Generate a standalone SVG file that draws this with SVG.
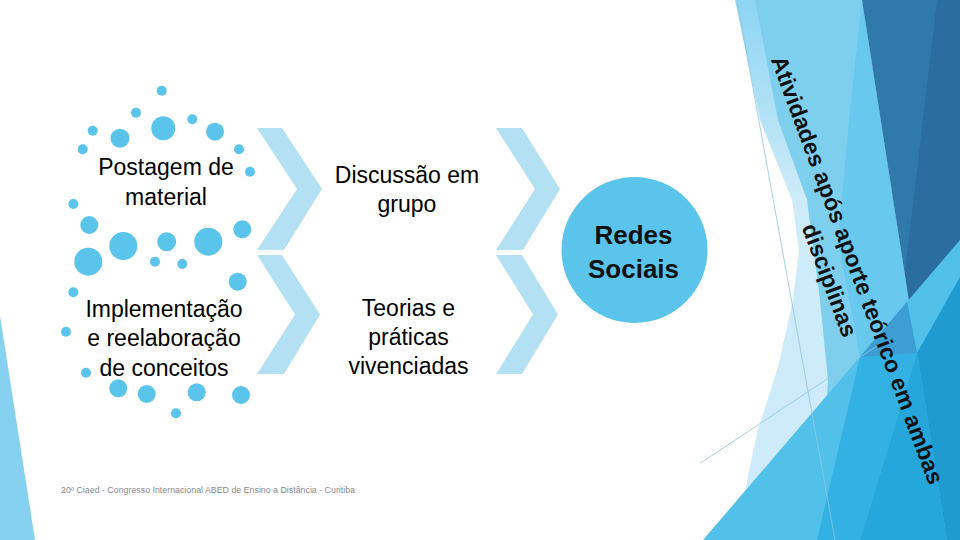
<svg xmlns="http://www.w3.org/2000/svg" width="960" height="540" viewBox="0 0 960 540">
  <defs>
    <linearGradient id="paleGrad" x1="0" y1="0" x2="0" y2="540" gradientUnits="userSpaceOnUse">
      <stop offset="0" stop-color="#8DD5F2"/>
      <stop offset="0.36" stop-color="#CDEBF8"/>
      <stop offset="1" stop-color="#CDEBF8"/>
    </linearGradient>
  </defs>
  <style>
    .lbl { font-family: "Liberation Sans", Arial, sans-serif; font-size: 23px; fill: #000; text-anchor: middle; }
    .bold { font-family: "Liberation Sans", Arial, sans-serif; font-weight: bold; fill: #111; }
    .dot { fill: #5BC4EA; }
    .chev { fill: #B4E0F4; }
    .thin { stroke: #8FC7DE; stroke-width: 0.8; fill: none; }
    .foot { font-family: "Liberation Sans", Arial, sans-serif; font-size: 8.3px; fill: #8A8A8A; }
  </style>

  <rect width="960" height="540" fill="#FFFFFF"/>

  <!-- background decoration -->
  <g id="decoration">
    <polygon points="0,316 35,540 0,540" fill="#86D1EF"/>
    <polygon points="735,0 760,0 830,300 840,540 737,540 743,500 757,433 778,367 793,300 799,250 792,200 760,120" fill="url(#paleGrad)"/>
    <polygon points="755,0 862,0 917,353 860,540 817,540 828,380 820,300 807,200 778,120" fill="#7ECFEE"/>
    <polygon points="862,0 917,353 860,357 838,240 850,110" fill="#68C8ED"/>
    <polygon points="862,0 960,0 960,277 917,353" fill="#3079AB"/>
    <polygon points="937,0 960,0 960,277 917,353 905,272" fill="#2C6DA0"/>
    <polygon points="703,540 960,240 960,540" fill="#52C1E9"/>
    <polygon points="817,540 860,357 907,302 917,353 860,540" fill="#34B1E3"/>
    <polygon points="860,357 907,302 917,353" fill="#3D9ED4"/>
    <polygon points="860,540 917,353 947,540" fill="#26A7DC"/>
    <polygon points="947,540 917,353 960,277 960,540" fill="#1F9BD0"/>
    <line class="thin" x1="737" y1="0" x2="835" y2="540"/>
    <line class="thin" x1="700" y1="463.4" x2="880" y2="344"/>
  </g>

  <!-- decorative dots -->
  <g id="dots">
    <circle class="dot" cx="161.7" cy="90.7" r="5"/>
    <circle class="dot" cx="136" cy="112.7" r="5"/>
    <circle class="dot" cx="163.3" cy="128.3" r="12"/>
    <circle class="dot" cx="192.3" cy="119.3" r="5"/>
    <circle class="dot" cx="92.7" cy="130.7" r="5"/>
    <circle class="dot" cx="120" cy="138.3" r="9.5"/>
    <circle class="dot" cx="215" cy="131.7" r="9"/>
    <circle class="dot" cx="82.7" cy="149.3" r="5"/>
    <circle class="dot" cx="239" cy="149.3" r="5"/>
    <circle class="dot" cx="250" cy="171.7" r="5"/>
    <circle class="dot" cx="73.3" cy="204" r="5"/>
    <circle class="dot" cx="89.3" cy="225" r="9"/>
    <circle class="dot" cx="242.3" cy="229.3" r="9"/>
    <circle class="dot" cx="123.3" cy="246" r="14"/>
    <circle class="dot" cx="166.7" cy="241.7" r="9.5"/>
    <circle class="dot" cx="208.3" cy="241.7" r="14"/>
    <circle class="dot" cx="88.3" cy="261.7" r="14"/>
    <circle class="dot" cx="155" cy="261.7" r="5"/>
    <circle class="dot" cx="182.3" cy="264" r="5"/>
    <circle class="dot" cx="237.7" cy="281.7" r="9"/>
    <circle class="dot" cx="73.3" cy="292.3" r="5"/>
    <circle class="dot" cx="66" cy="331.7" r="5"/>
    <circle class="dot" cx="86" cy="372.7" r="5"/>
    <circle class="dot" cx="118.3" cy="388.3" r="9"/>
    <circle class="dot" cx="146.7" cy="394" r="9"/>
    <circle class="dot" cx="196.7" cy="392.3" r="9"/>
    <circle class="dot" cx="241" cy="395" r="9"/>
    <circle class="dot" cx="176" cy="413.3" r="5"/>
  </g>

  <!-- connectors (chevrons) -->
  <g id="connectors">
    <polygon class="chev" points="257,128 282,128 322,189 284,250 257,250 297,189"/>
    <polygon class="chev" points="257,255 282,255 320,314.5 284,374 257,374 295,314.5"/>
    <polygon class="chev" points="496,128 522,128 560,189 523,250 496,250 535,189"/>
    <polygon class="chev" points="496,255 522,255 558,314.5 522,374 496,374 533,314.5"/>
  </g>

  <g id="node-postagem">
    <text class="lbl" x="166" y="175">Postagem de</text>
    <text class="lbl" x="166" y="204.5">material</text>
  </g>

  <g id="node-implementacao">
    <text class="lbl" x="164" y="316.5">Implementação</text>
    <text class="lbl" x="164" y="346">e reelaboração</text>
    <text class="lbl" x="164" y="375.5">de conceitos</text>
  </g>

  <g id="node-discussao">
    <text class="lbl" x="407" y="183">Discussão em</text>
    <text class="lbl" x="407" y="212">grupo</text>
  </g>

  <g id="node-teorias">
    <text class="lbl" x="408.5" y="316">Teorias e</text>
    <text class="lbl" x="408.5" y="345">práticas</text>
    <text class="lbl" x="408.5" y="374">vivenciadas</text>
  </g>

  <g id="node-redes">
    <circle cx="634.5" cy="250" r="73" fill="#5BC4EA"/>
    <text class="bold" x="633.5" y="244" font-size="26" text-anchor="middle">Redes</text>
    <text class="bold" x="633.5" y="277.5" font-size="26" text-anchor="middle">Sociais</text>
  </g>

  <g id="node-atividades" transform="translate(856.5,270.3) rotate(69.6)">
    <text class="bold" x="0" y="7" font-size="23" text-anchor="middle">Atividades após aporte teórico em ambas</text>
    <text class="bold" x="0" y="36.5" font-size="23" text-anchor="middle">disciplinas</text>
  </g>

  <g id="footer">
    <text class="foot" x="61" y="492.5" textLength="294" lengthAdjust="spacingAndGlyphs">20º Ciaed - Congresso Internacional ABED de Ensino a Distância - Curitiba</text>
  </g>
</svg>
